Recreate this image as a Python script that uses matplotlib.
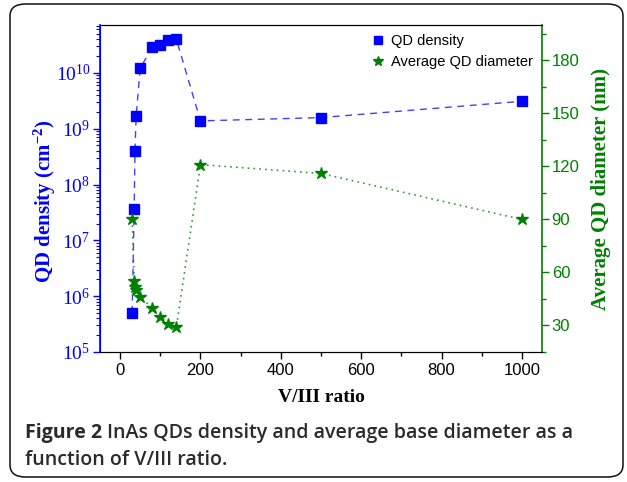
import numpy as np
import matplotlib
matplotlib.use("Agg")
import matplotlib.pyplot as plt
from matplotlib.patches import FancyBboxPatch
from matplotlib.ticker import LogLocator, MultipleLocator, FixedLocator

# data
vr_density = [30, 35, 37, 40, 50, 80, 100, 120, 140, 200, 500, 1000]
qd_density = [5e5, 3.6e7, 4e8, 1.7e9, 1.2e10, 2.9e10, 3.1e10, 3.8e10, 4.0e10,
              1.38e9, 1.58e9, 3.1e9]
vr_diam = [30, 35, 37, 40, 50, 80, 100, 120, 140, 200, 500, 1000]
qd_diam = [90, 55, 52, 50, 46, 40, 35, 31, 29, 121, 116, 90]

x_ticks = [0, 200, 400, 600, 800, 1000]
right_ticks = [30, 60, 90, 120, 150, 180]

blue = '#0000ff'
green = '#008000'
sans = 'Liberation Sans'
serif = 'Liberation Serif'

plt.rcParams['mathtext.fontset'] = 'custom'
plt.rcParams['mathtext.rm'] = serif
plt.rcParams['mathtext.it'] = serif + ':italic'
plt.rcParams['mathtext.bf'] = serif + ':bold'

fig = plt.figure(figsize=(6.27, 4.82), dpi=100)
W, H = 627, 482

# rounded frame round the whole figure
frame = FancyBboxPatch((10 / W, 5 / H), 613 / W, 473 / H,
                       boxstyle="round,pad=0,rounding_size=0.025",
                       transform=fig.transFigure, fill=False,
                       ec='#111111', lw=1.1)
fig.patches.append(frame)

ax = fig.add_axes([100 / W, 1 - 352 / H, 442 / W, 327 / H])
ax2 = ax.twinx()

l1, = ax.plot(vr_density, qd_density, ls=(0, (5, 4)), color=(0, 0, 1, 0.75),
              lw=1, marker='s', ms=7, mfc=blue, mec=blue)
l2, = ax2.plot(vr_diam, qd_diam, ls=(0, (1, 2.5)), color=(0, 0.5, 0, 0.8),
               lw=1.2, marker='*', ms=9, mfc=green, mec=green)

ax.set_yscale('log')
ax.set_xlim(-50, 1050)
ax.set_ylim(1e5, 7.2e10)
ax2.set_ylim(15, 200)

ax.xaxis.set_major_locator(FixedLocator(x_ticks))
ax.xaxis.set_minor_locator(MultipleLocator(100))
ax.yaxis.set_major_locator(LogLocator(base=10, numticks=10))
ax.yaxis.set_minor_locator(LogLocator(base=10, subs=np.arange(2, 10), numticks=20))
ax2.yaxis.set_major_locator(FixedLocator(right_ticks))
ax2.yaxis.set_minor_locator(MultipleLocator(15))

ax.tick_params(axis='x', which='major', direction='out', length=5, width=1,
               labelsize=12, pad=3)
ax.tick_params(axis='x', which='minor', direction='out', length=3, width=1)
ax.tick_params(axis='y', which='major', direction='out', length=5, width=1,
               color=blue, labelcolor=blue, labelsize=14, pad=2)
ax.tick_params(axis='y', which='minor', direction='out', length=3, width=0.8,
               color=blue)
ax2.tick_params(axis='y', which='major', direction='out', length=5, width=1,
                color=green, labelcolor=green, labelsize=12, pad=2)
ax2.tick_params(axis='y', which='minor', direction='out', length=3, width=1,
                color=green)

for lab in ax.get_xticklabels() + ax2.get_yticklabels():
    lab.set_fontfamily(sans)
for lab in ax.get_yticklabels():
    lab.set_fontfamily(serif)

ax.spines['left'].set_color(blue)
ax.spines['left'].set_linewidth(1.2)
ax2.spines['left'].set_color(blue)
ax2.spines['right'].set_color(green)
ax2.spines['right'].set_linewidth(1.2)
ax.spines['right'].set_visible(False)

ax.set_xlabel('V/III ratio', fontfamily=serif, fontweight='bold', fontsize=14,
              labelpad=8)
ax.set_ylabel(r'QD density (cm$^{\mathbf{-2}}$)', fontfamily=serif,
              fontweight='bold', fontsize=15, color=blue)
ax.yaxis.set_label_coords(-0.095, 0.46)
ax2.set_ylabel('Average QD diameter (nm)', fontfamily=serif, fontweight='bold',
               fontsize=15, color=green, labelpad=8)

ax.legend([l1, l2], ['QD density', 'Average QD diameter'], loc='upper right',
          frameon=False, prop={'family': sans, 'size': 10.5},
          handlelength=1.0, handletextpad=0.4, borderaxespad=0.2,
          labelspacing=0.5, markerscale=0.85)
leg = ax.get_legend()
for h in leg.legend_handles:
    h.set_linestyle('none')

# caption, bold lead-in followed by plain text
cap_font = 'Open Sans'
cap_size = 14.1
cap_color = '#2a2a2a'
t1 = fig.text(25 / W, 1 - 438 / H, 'Figure 2', fontfamily=cap_font,
              fontweight='bold', fontsize=cap_size, color=cap_color,
              va='baseline')
r = fig.canvas.get_renderer()
bb = t1.get_window_extent(r)
fig.text(bb.x1 / W + 5 / W, 1 - 438 / H,
         'InAs QDs density and average base diameter as a',
         fontfamily=cap_font, fontweight='semibold', fontsize=cap_size,
         color=cap_color, va='baseline')
fig.text(25 / W, 1 - 465 / H, 'function of V/III ratio.', fontfamily=cap_font,
         fontweight='semibold', fontsize=cap_size, color=cap_color,
         va='baseline')

fig.savefig('out.png', dpi=100)
